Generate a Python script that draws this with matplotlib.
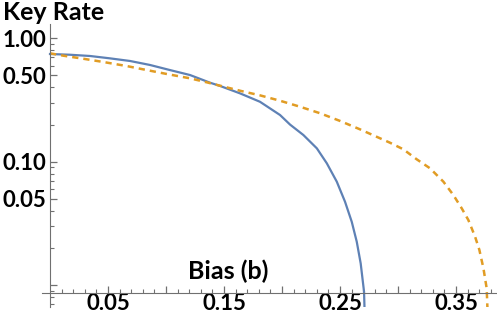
import numpy as np
import matplotlib
matplotlib.use('Agg')
import matplotlib.pyplot as plt
from matplotlib.ticker import NullFormatter

# values
bias_blue = [0.0, 0.0172, 0.0345, 0.0517, 0.0690, 0.0862, 0.1034, 0.1207,
             0.1379, 0.1466, 0.1638, 0.1810, 0.1983, 0.2069, 0.2184, 0.2300,
             0.2386, 0.2472, 0.2543, 0.2601, 0.2644, 0.2678, 0.2707, 0.2712]
rate_blue = [0.746, 0.736, 0.719, 0.688, 0.655, 0.608, 0.553, 0.504,
             0.437, 0.411, 0.358, 0.306, 0.239, 0.200, 0.1646, 0.1284,
             0.0971, 0.0689, 0.0474, 0.0326, 0.0225, 0.0150, 0.00884, 0.006]

bias_orange = [0.0, 0.0115, 0.0287, 0.0459, 0.0661, 0.0834, 0.1006, 0.1207,
               0.1351, 0.1466, 0.1638, 0.1810, 0.1983, 0.2155, 0.2328, 0.2500,
               0.2672, 0.2845, 0.2931, 0.3046, 0.3161, 0.3276, 0.3391, 0.3477,
               0.3549, 0.3606, 0.3664, 0.3701, 0.3736, 0.3764, 0.3772]
rate_orange = [0.756, 0.723, 0.683, 0.643, 0.596, 0.553, 0.514, 0.474,
               0.440, 0.413, 0.376, 0.345, 0.312, 0.279, 0.247, 0.214,
               0.183, 0.1548, 0.1425, 0.1260, 0.1046, 0.0884, 0.0689, 0.0537,
               0.0419, 0.0337, 0.0247, 0.0193, 0.0137, 0.00942, 0.006]

x_major = [0.05, 0.10, 0.15, 0.20, 0.25, 0.30, 0.35]
x_labels = ['0.05', '', '0.15', '', '0.25', '', '0.35']
y_major = [0.01, 0.05, 0.10, 0.50, 1.00]
y_labels = ['', '0.05', '0.10', '0.50', '1.00']

plt.rcParams['font.family'] = ['Lato', 'DejaVu Sans']
plt.rcParams['font.weight'] = 'bold'

W, H = 497, 317
fig = plt.figure(figsize=(W / 100, H / 100), dpi=100)
ax = fig.add_axes([42 / W, 10 / H, (W - 42) / W, (307 - 24) / H])

ax.plot(bias_blue, rate_blue, color='#5E81B5', lw=1.6)
ax.plot(bias_orange, rate_orange, color='#E19C24', lw=1.8, dashes=(2.5, 2.0))

ax.set_yscale('log')
ax.set_xlim(-0.0069, 0.3853)
ax.set_ylim(0.00665, 1.306)

axis_col = '#707070'
for s in ['top', 'right']:
    ax.spines[s].set_visible(False)
ax.spines['left'].set_position(('data', 0))
ax.spines['bottom'].set_position(('data', 0.00863))
ax.spines['left'].set_color(axis_col)
ax.spines['bottom'].set_color(axis_col)

ax.set_xticks(x_major)
ax.set_xticklabels(x_labels)
ax.set_xticks(np.arange(0.01, 0.385, 0.01), minor=True)
ax.set_yticks(y_major)
ax.set_yticklabels(y_labels)
minor_y = [m * d for d in [0.001, 0.01, 0.1] for m in range(2, 10)]
minor_y = [v for v in minor_y if 0.0066 < v < 1.3 and v not in y_major]
ax.set_yticks(minor_y, minor=True)
ax.yaxis.set_minor_formatter(NullFormatter())

ax.tick_params(which='major', direction='in', length=5, width=0.9, color=axis_col,
               labelsize=16, pad=3)
ax.tick_params(which='minor', direction='in', length=3, width=0.8, color=axis_col)
ax.tick_params(axis='x', which='major', pad=0)

fig.text(3 / W, 1 - 1 / H, 'Key Rate', ha='left', va='top', fontsize=18, fontweight='bold')
fig.text(228 / W, 1 - 271 / H, 'Bias (b)', ha='center', va='center', fontsize=18,
         fontweight='bold')

fig.savefig('out.png', dpi=100)
